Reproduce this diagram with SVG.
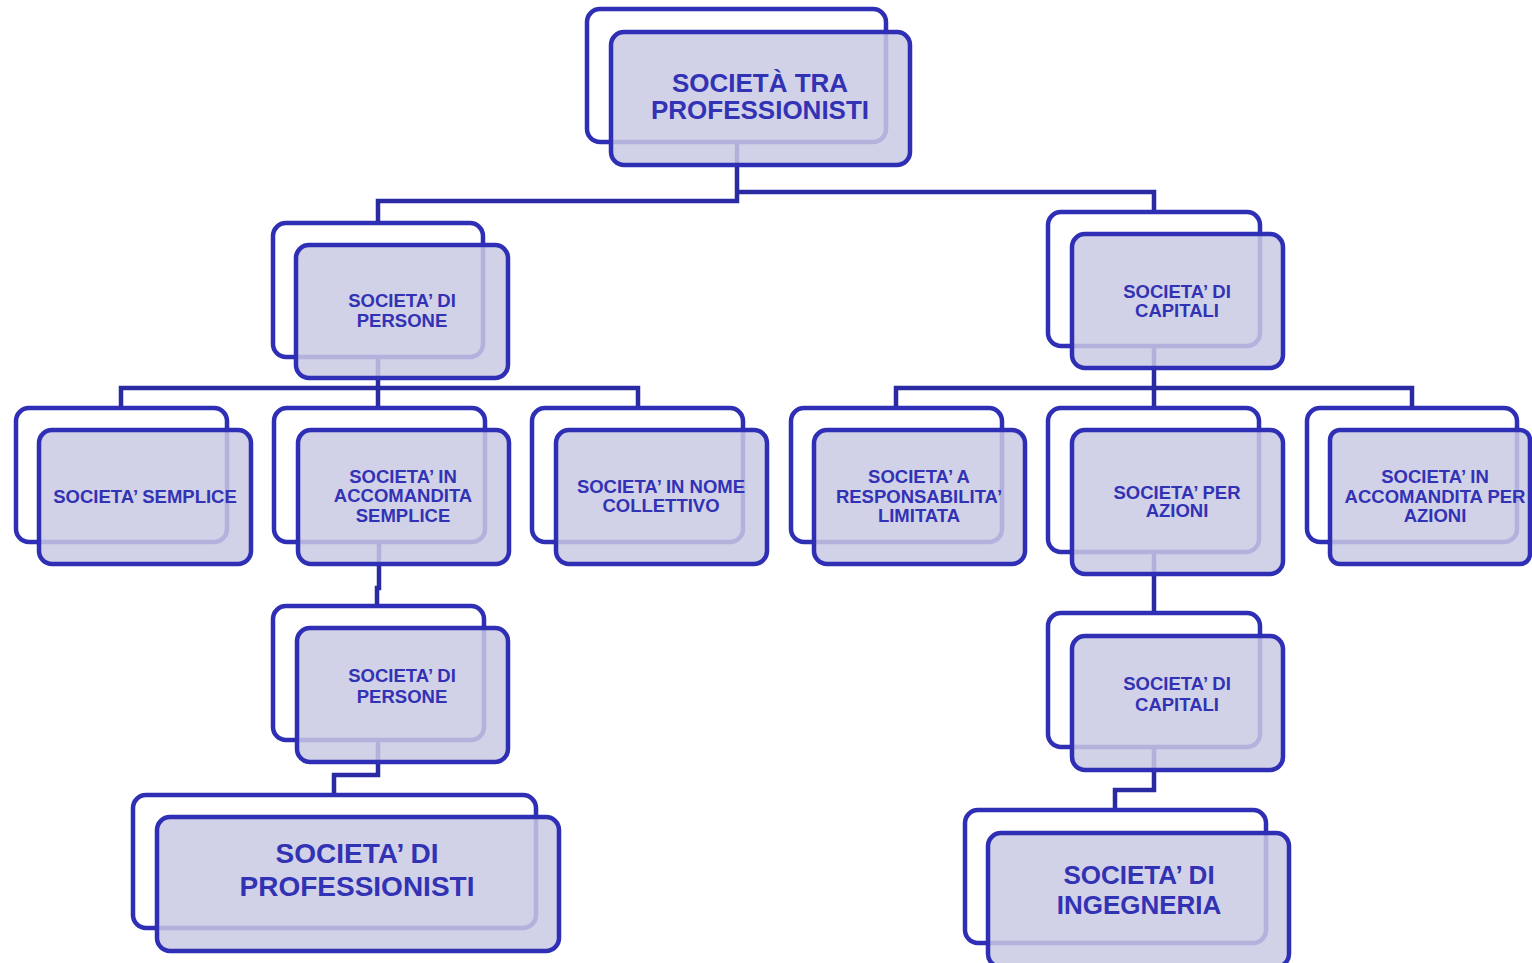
<svg xmlns="http://www.w3.org/2000/svg" width="1532" height="963" viewBox="0 0 1532 963">
<style>
.back{fill:#ffffff;stroke:#2F2FB5;stroke-width:4.5}
.front{fill:#C9C9E4;fill-opacity:0.85;stroke:#2F2FB5;stroke-width:4.5}
.conn{fill:none;stroke:#2A2AA2;stroke-width:4.5;stroke-linejoin:miter}
text{font-family:"Liberation Sans",Arial,sans-serif;font-weight:bold;fill:#3232B4;text-anchor:middle}
.s{font-size:18.5px}
.l{font-size:26px}
.xl{font-size:28px}
</style>
<rect width="1532" height="963" fill="#ffffff"/>
<g id="connectors">
<path class="conn" d="M737,142 V201 H378 V223"/>
<path class="conn" d="M737,192 H1154 V212"/>
<path class="conn" d="M378,357 V408"/>
<path class="conn" d="M121,408 V388 H638 V408"/>
<path class="conn" d="M1154,346 V408"/>
<path class="conn" d="M896,408 V388 H1412 V408"/>
<path class="conn" d="M379,542 V588 H377 V606"/>
<path class="conn" d="M378,740 V775 H334 V795"/>
<path class="conn" d="M1154,552 V613"/>
<path class="conn" d="M1154,747 V790 H1115 V810"/>
</g>
<g id="root">
<rect class="back" x="587" y="9" width="299" height="133" rx="13"/>
<rect class="front" x="611" y="32" width="299" height="133" rx="13"/>
<text class="l" x="760" y="92">SOCIETÀ TRA</text>
<text class="l" x="760" y="119">PROFESSIONISTI</text>
</g>
<g id="persone">
<rect class="back" x="273" y="223" width="210" height="134" rx="13"/>
<rect class="front" x="296" y="245" width="212" height="133" rx="13"/>
<text class="s" x="402" y="307">SOCIETA’ DI</text>
<text class="s" x="402" y="327">PERSONE</text>
</g>
<g id="capitali">
<rect class="back" x="1048" y="212" width="212" height="134" rx="13"/>
<rect class="front" x="1072" y="234" width="211" height="134" rx="13"/>
<text class="s" x="1177" y="298">SOCIETA’ DI</text>
<text class="s" x="1177" y="317">CAPITALI</text>
</g>
<g id="semplice">
<rect class="back" x="16" y="408" width="211" height="134" rx="13"/>
<rect class="front" x="39" y="430" width="212" height="134" rx="13"/>
<text class="s" x="145" y="503">SOCIETA’ SEMPLICE</text>
</g>
<g id="accomandita-semplice">
<rect class="back" x="274" y="408" width="211" height="134" rx="13"/>
<rect class="front" x="298" y="430" width="211" height="134" rx="13"/>
<text class="s" x="403" y="483">SOCIETA’ IN</text>
<text class="s" x="403" y="502">ACCOMANDITA</text>
<text class="s" x="403" y="522">SEMPLICE</text>
</g>
<g id="nome-collettivo">
<rect class="back" x="532" y="408" width="211" height="134" rx="13"/>
<rect class="front" x="556" y="430" width="211" height="134" rx="13"/>
<text class="s" x="661" y="493">SOCIETA’ IN NOME</text>
<text class="s" x="661" y="512">COLLETTIVO</text>
</g>
<g id="srl">
<rect class="back" x="791" y="408" width="211" height="134" rx="13"/>
<rect class="front" x="814" y="430" width="211" height="134" rx="13"/>
<text class="s" x="919" y="483">SOCIETA’ A</text>
<text class="s" x="919" y="503">RESPONSABILITA’</text>
<text class="s" x="919" y="522">LIMITATA</text>
</g>
<g id="spa">
<rect class="back" x="1048" y="408" width="211" height="144" rx="13"/>
<rect class="front" x="1072" y="430" width="211" height="144" rx="13"/>
<text class="s" x="1177" y="499">SOCIETA’ PER</text>
<text class="s" x="1177" y="517">AZIONI</text>
</g>
<g id="sapa">
<rect class="back" x="1307" y="408" width="210" height="134" rx="13"/>
<rect class="front" x="1330" y="430" width="200" height="134" rx="10"/>
<text class="s" x="1435" y="483">SOCIETA’ IN</text>
<text class="s" x="1435" y="503">ACCOMANDITA PER</text>
<text class="s" x="1435" y="522">AZIONI</text>
</g>
<g id="persone-2">
<rect class="back" x="273" y="606" width="211" height="134" rx="13"/>
<rect class="front" x="297" y="628" width="211" height="134" rx="13"/>
<text class="s" x="402" y="682">SOCIETA’ DI</text>
<text class="s" x="402" y="703">PERSONE</text>
</g>
<g id="professionisti">
<rect class="back" x="133" y="795" width="403" height="133" rx="13"/>
<rect class="front" x="157" y="817" width="402" height="134" rx="13"/>
<text class="xl" x="357" y="863">SOCIETA’ DI</text>
<text class="xl" x="357" y="896">PROFESSIONISTI</text>
</g>
<g id="capitali-2">
<rect class="back" x="1048" y="613" width="212" height="134" rx="13"/>
<rect class="front" x="1072" y="636" width="211" height="134" rx="13"/>
<text class="s" x="1177" y="690">SOCIETA’ DI</text>
<text class="s" x="1177" y="711">CAPITALI</text>
</g>
<g id="ingegneria">
<rect class="back" x="965" y="810" width="301" height="133" rx="13"/>
<rect class="front" x="988" y="833" width="301" height="134" rx="13"/>
<text class="l" x="1139" y="884">SOCIETA’ DI</text>
<text class="l" x="1139" y="914">INGEGNERIA</text>
</g>
</svg>
